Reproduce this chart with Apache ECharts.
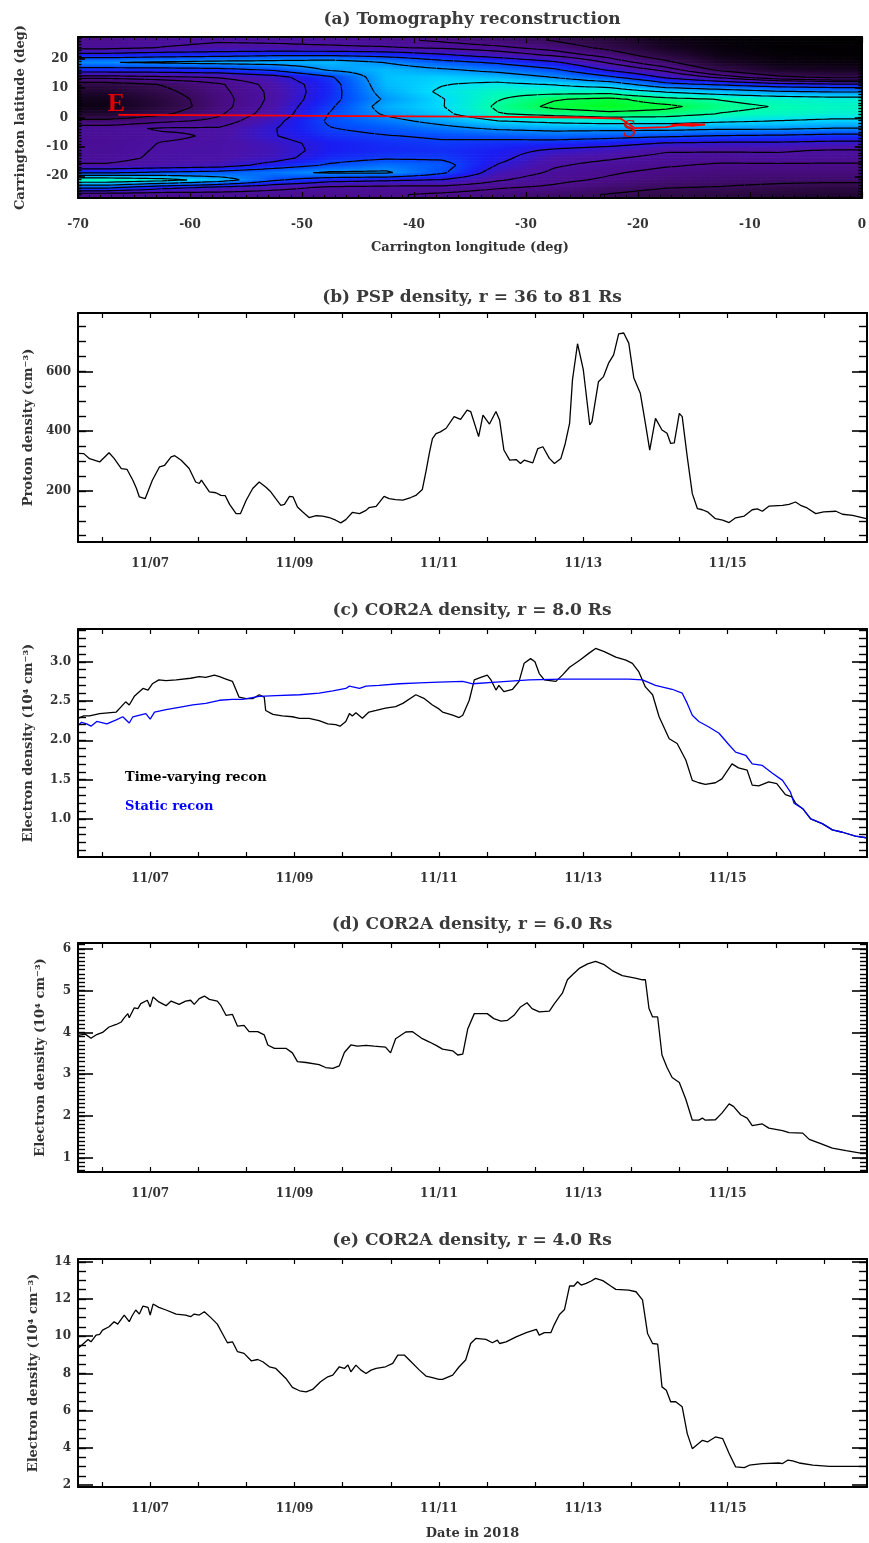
<!DOCTYPE html>
<html>
<head>
<meta charset="utf-8">
<script src="https://cdn.jsdelivr.net/npm/echarts@6/dist/echarts.min.js"></script>
<style>
  html, body { margin: 0; padding: 0; background: #ffffff; }
  #main { width: 869px; height: 1543px; }
</style>
</head>
<body>
<div id="main"></div>
<script>
// ---------- (a) tomography reconstruction: density on a lon/lat grid ----------
const tomoLonCenters = [-67.5, -62.5, -57.5, -52.5, -47.5, -42.5, -37.5, -32.5, -27.5, -22.5, -17.5, -12.5, -7.5, -2.5];
const tomoLatCenters = [26.25, 23.75, 21.25, 18.75, 16.25, 13.75, 11.25, 8.75, 6.25, 3.75, 1.25, -1.25, -3.75, -6.25,
                        -8.75, -11.25, -13.75, -16.25, -18.75, -21.25, -23.75, -26.25];
const tomoDensity = [
  [3.2, 3.5, 3.65, 3.6, 3.5, 3.3, 3.0, 2.6, 2.2, 1.5, 0.6, 0.2, 0.1, 0.0],
  [3.5, 3.75, 3.9, 3.9, 3.85, 3.8, 3.6, 3.3, 2.8, 2.0, 0.9, 0.3, 0.1, 0.1],
  [5.0, 5.2, 5.3, 5.5, 5.5, 5.3, 4.8, 4.2, 3.6, 2.8, 1.6, 0.5, 0.2, 0.1],
  [6.8, 7.0, 7.2, 7.3, 7.5, 6.8, 6.0, 5.5, 4.8, 3.6, 2.5, 1.0, 0.4, 0.3],
  [5.2, 5.2, 5.3, 5.8, 7.0, 7.5, 7.0, 6.5, 5.8, 4.5, 3.5, 2.0, 1.0, 0.8],
  [3.4, 3.6, 3.8, 4.3, 5.5, 7.6, 7.8, 7.5, 6.8, 5.8, 4.5, 3.5, 2.5, 2.0],
  [1.8, 2.3, 3.0, 4.0, 5.2, 7.5, 8.0, 8.3, 8.0, 7.5, 6.0, 5.5, 5.0, 4.8],
  [1.2, 2.0, 2.9, 3.9, 5.2, 7.3, 8.2, 8.8, 8.8, 8.8, 8.0, 7.5, 7.0, 6.8],
  [0.7, 1.7, 2.8, 3.9, 5.3, 7.0, 8.0, 9.0, 9.6, 9.8, 9.3, 9.0, 8.7, 8.5],
  [0.5, 1.6, 2.8, 4.0, 5.5, 7.3, 8.0, 9.2, 9.8, 10.0, 9.8, 9.3, 9.0, 8.8],
  [1.2, 2.1, 3.0, 4.1, 5.7, 7.0, 7.8, 9.0, 9.3, 9.5, 9.4, 9.0, 8.8, 8.6],
  [2.6, 3.0, 3.3, 4.4, 5.8, 6.5, 7.2, 8.0, 8.3, 8.5, 8.5, 8.2, 8.0, 7.8],
  [3.5, 3.8, 3.8, 4.6, 5.6, 6.0, 6.5, 7.0, 7.2, 7.2, 7.2, 7.0, 7.0, 6.8],
  [3.4, 3.6, 3.8, 4.6, 5.3, 5.6, 5.8, 6.0, 6.2, 6.0, 5.8, 5.6, 5.5, 5.3],
  [3.4, 3.75, 3.85, 4.3, 5.0, 5.3, 5.5, 5.3, 5.2, 5.0, 4.6, 4.5, 4.5, 4.4],
  [3.45, 3.8, 3.9, 4.2, 5.0, 5.2, 5.3, 5.0, 4.5, 4.2, 3.8, 3.8, 3.8, 3.65],
  [3.5, 3.85, 3.9, 4.3, 5.2, 5.5, 5.5, 4.9, 4.0, 3.8, 3.5, 3.4, 3.5, 3.4],
  [3.8, 4.0, 4.2, 5.0, 5.8, 6.4, 6.0, 4.6, 3.8, 3.5, 3.2, 3.0, 3.0, 3.0],
  [5.5, 5.8, 6.0, 6.5, 7.0, 7.0, 5.8, 4.2, 3.6, 3.2, 2.9, 2.8, 2.8, 2.8],
  [9.0, 8.5, 7.5, 5.8, 5.0, 4.8, 4.6, 3.8, 3.3, 3.0, 2.7, 2.6, 2.5, 2.5],
  [6.0, 5.0, 4.5, 4.0, 3.6, 3.5, 3.5, 3.2, 3.0, 2.6, 2.3, 2.2, 2.0, 1.8],
  [3.2, 3.2, 3.3, 3.3, 3.2, 3.2, 3.0, 2.8, 2.5, 2.2, 1.9, 1.8, 1.5, 1.3]
];
const tomoColors = ['#000000', '#1a0428', '#320a4c', '#4a0c88', '#4a12aa', '#1a1cf2',
                    '#0058ff', '#0098ff', '#00dcff', '#00ffb0', '#00ff20'];
const contourLevels = [2.25, 3.12, 3.72, 4.65, 5.65, 6.85, 8.05, 9.05, 9.65];

// spacecraft track (E to S)
const trackPath = [[-66.4, 0.9], [-55, 0.7], [-45, 0.5], [-35, 0.3], [-25, 0.0], [-21.5, -0.4], [-20.3, -3.6],
                   [-17.5, -3.3], [-16.3, -2.6], [-15, -2.8], [-14, -2.4], [-15.5, -2.2], [-17, -2.6]];
const trackMarks = [{ name: 'E', value: [-66.56, 4.66], bold: true, color: '#dd0000' },
                    { name: 'S', value: [-20.74, -4.2], bold: false, color: '#cc1111' }];

// ---------- (b)-(e) time series, x = day of November 2018 ----------
const pspDensity = [[6.00,326],[6.08,325],[6.16,308],[6.30,297],[6.43,328],[6.50,309],[6.60,275],[6.68,272],[6.76,236],[6.81,208],[6.85,180],[6.93,174],[7.03,236],[7.13,281],[7.20,286],[7.29,314],[7.34,318],[7.43,303],[7.54,275],[7.63,230],[7.68,225],[7.71,236],[7.82,197],[7.91,194],[7.98,185],[8.04,184],[8.10,155],[8.19,124],[8.25,124],[8.33,169],[8.42,208],[8.51,230],[8.60,213],[8.67,197],[8.74,174],[8.81,152],[8.86,155],[8.93,182],[8.98,180],[9.04,146],[9.11,130],[9.20,111],[9.30,117],[9.39,116],[9.48,111],[9.57,102],[9.64,93],[9.71,104],[9.80,128],[9.90,124],[9.99,135],[10.03,144],[10.13,148],[10.24,182],[10.31,174],[10.40,171],[10.50,169],[10.61,178],[10.68,185],[10.77,205],[10.82,265],[10.87,330],[10.91,375],[10.96,392],[11.02,398],[11.10,410],[11.21,449],[11.30,440],[11.39,471],[11.44,466],[11.55,382],[11.61,454],[11.70,424],[11.79,466],[11.84,438],[11.90,337],[11.98,303],[12.07,305],[12.13,292],[12.18,303],[12.30,294],[12.37,342],[12.44,348],[12.53,309],[12.60,292],[12.69,309],[12.75,359],[12.81,426],[12.85,572],[12.92,693],[13.00,606],[13.09,421],[13.12,432],[13.21,566],[13.28,583],[13.35,628],[13.42,656],[13.49,726],[13.56,729],[13.63,695],[13.70,578],[13.79,527],[13.86,426],[13.92,337],[14.00,443],[14.09,404],[14.16,393],[14.21,359],[14.26,361],[14.33,460],[14.37,449],[14.44,314],[14.51,191],[14.58,141],[14.65,137],[14.72,130],[14.83,107],[14.93,102],[15.02,94],[15.11,110],[15.23,116],[15.34,137],[15.41,140],[15.48,132],[15.57,149],[15.76,152],[15.85,155],[15.94,163],[16.01,152],[16.10,143],[16.22,124],[16.33,130],[16.50,132],[16.59,122],[16.73,118],[16.92,107]];

const cor8TimeVarying = [[6.00,2.28],[6.08,2.31],[6.16,2.31],[6.30,2.34],[6.53,2.36],[6.58,2.41],[6.66,2.49],[6.71,2.45],[6.78,2.56],[6.90,2.66],[6.97,2.64],[7.03,2.72],[7.12,2.77],[7.22,2.76],[7.36,2.77],[7.56,2.79],[7.68,2.81],[7.77,2.80],[7.89,2.83],[7.96,2.81],[8.05,2.78],[8.14,2.75],[8.19,2.64],[8.23,2.55],[8.33,2.53],[8.42,2.53],[8.51,2.58],[8.58,2.55],[8.60,2.38],[8.70,2.33],[8.83,2.31],[8.97,2.30],[9.07,2.28],[9.20,2.28],[9.34,2.25],[9.46,2.21],[9.57,2.20],[9.63,2.18],[9.71,2.24],[9.76,2.34],[9.80,2.31],[9.85,2.35],[9.94,2.28],[10.03,2.36],[10.13,2.38],[10.26,2.41],[10.40,2.43],[10.50,2.47],[10.68,2.58],[10.80,2.53],[10.91,2.45],[11.00,2.40],[11.05,2.36],[11.19,2.32],[11.28,2.29],[11.33,2.32],[11.42,2.51],[11.49,2.77],[11.58,2.80],[11.67,2.83],[11.72,2.77],[11.79,2.64],[11.83,2.70],[11.90,2.62],[12.02,2.65],[12.11,2.75],[12.18,2.98],[12.27,3.04],[12.33,3.00],[12.39,2.85],[12.46,2.77],[12.62,2.75],[12.71,2.83],[12.81,2.93],[12.95,3.02],[13.08,3.11],[13.17,3.17],[13.29,3.13],[13.45,3.06],[13.59,3.02],[13.68,2.98],[13.77,2.87],[13.86,2.68],[13.96,2.58],[14.05,2.30],[14.19,2.02],[14.30,1.96],[14.42,1.75],[14.51,1.49],[14.60,1.46],[14.69,1.44],[14.83,1.46],[14.92,1.51],[15.06,1.70],[15.15,1.65],[15.27,1.62],[15.34,1.43],[15.43,1.42],[15.57,1.47],[15.68,1.45],[15.80,1.31],[15.89,1.28],[15.94,1.20],[16.04,1.13],[16.15,1.00],[16.31,0.94],[16.45,0.86],[16.59,0.83],[16.77,0.78],[16.92,0.76]];

const cor8Static = [[6.00,2.19],[6.05,2.23],[6.12,2.21],[6.18,2.18],[6.26,2.24],[6.40,2.21],[6.53,2.26],[6.62,2.30],[6.71,2.22],[6.76,2.30],[6.94,2.34],[7.00,2.27],[7.06,2.36],[7.22,2.39],[7.40,2.42],[7.59,2.45],[7.77,2.47],[7.96,2.51],[8.14,2.52],[8.28,2.52],[8.51,2.56],[8.74,2.57],[9.07,2.58],[9.34,2.60],[9.53,2.63],[9.71,2.66],[9.76,2.69],[9.90,2.66],[9.99,2.69],[10.17,2.70],[10.45,2.72],[10.73,2.73],[11.00,2.74],[11.33,2.75],[11.47,2.72],[11.79,2.74],[12.25,2.77],[12.71,2.78],[13.17,2.78],[13.63,2.78],[13.82,2.77],[14.00,2.70],[14.23,2.65],[14.37,2.60],[14.44,2.47],[14.51,2.32],[14.60,2.24],[14.74,2.17],[14.88,2.09],[15.02,1.94],[15.11,1.85],[15.25,1.81],[15.34,1.70],[15.48,1.68],[15.62,1.58],[15.76,1.49],[15.87,1.34],[15.92,1.20],[16.04,1.13],[16.15,1.00],[16.31,0.94],[16.45,0.86],[16.59,0.83],[16.77,0.78],[16.92,0.76]];

const cor6Density = [[6.00,3.93],[6.10,3.96],[6.18,3.86],[6.25,3.94],[6.34,4.00],[6.43,4.13],[6.53,4.19],[6.60,4.25],[6.64,4.35],[6.69,4.45],[6.71,4.35],[6.78,4.59],[6.83,4.57],[6.87,4.69],[6.96,4.77],[7.00,4.61],[7.04,4.85],[7.12,4.73],[7.22,4.64],[7.29,4.75],[7.40,4.67],[7.49,4.75],[7.56,4.77],[7.61,4.67],[7.68,4.81],[7.75,4.87],[7.82,4.79],[7.93,4.75],[7.98,4.64],[8.05,4.41],[8.14,4.43],[8.21,4.15],[8.30,4.17],[8.37,4.02],[8.49,4.02],[8.58,3.94],[8.63,3.70],[8.72,3.62],[8.88,3.62],[8.97,3.51],[9.04,3.30],[9.16,3.28],[9.34,3.23],[9.43,3.16],[9.53,3.14],[9.62,3.20],[9.69,3.52],[9.78,3.70],[9.87,3.67],[9.99,3.69],[10.10,3.67],[10.26,3.65],[10.33,3.51],[10.40,3.85],[10.54,4.01],[10.63,4.02],[10.77,3.85],[10.87,3.77],[10.96,3.69],[11.05,3.60],[11.19,3.56],[11.26,3.46],[11.33,3.48],[11.40,4.09],[11.49,4.45],[11.58,4.45],[11.67,4.45],[11.76,4.33],[11.86,4.27],[11.95,4.29],[12.04,4.41],[12.13,4.61],[12.22,4.71],[12.29,4.57],[12.39,4.49],[12.53,4.51],[12.60,4.69],[12.71,4.94],[12.78,5.26],[12.85,5.38],[12.95,5.54],[13.06,5.64],[13.17,5.70],[13.29,5.62],[13.40,5.48],[13.54,5.36],[13.63,5.33],[13.72,5.30],[13.82,5.26],[13.86,5.26],[13.91,4.57],[13.96,4.37],[14.03,4.37],[14.09,3.46],[14.16,3.16],[14.23,2.92],[14.33,2.80],[14.42,2.40],[14.51,1.90],[14.60,1.90],[14.65,1.95],[14.69,1.90],[14.83,1.91],[14.92,2.07],[15.02,2.29],[15.08,2.23],[15.18,2.03],[15.27,1.95],[15.34,1.77],[15.48,1.81],[15.57,1.71],[15.76,1.65],[15.85,1.60],[16.04,1.59],[16.13,1.44],[16.27,1.35],[16.45,1.23],[16.64,1.17],[16.82,1.12],[16.92,1.12]];

const cor4Density = [[6.00,9.35],[6.05,9.52],[6.14,9.83],[6.18,9.70],[6.25,10.06],[6.30,10.10],[6.34,10.33],[6.43,10.51],[6.50,10.78],[6.55,10.65],[6.64,11.14],[6.66,11.23],[6.71,10.78],[6.75,11.10],[6.80,11.41],[6.85,11.19],[6.90,11.62],[6.97,11.55],[7.00,11.14],[7.04,11.73],[7.12,11.55],[7.22,11.41],[7.36,11.19],[7.49,11.14],[7.56,11.05],[7.61,11.19],[7.68,11.14],[7.75,11.32],[7.84,11.00],[7.93,10.65],[8.00,10.15],[8.07,9.65],[8.14,9.70],[8.21,9.17],[8.30,9.08],[8.40,8.68],[8.49,8.75],[8.56,8.63],[8.65,8.36],[8.74,8.27],[8.88,7.73],[8.97,7.25],[9.07,7.07],[9.16,7.01],[9.25,7.14],[9.36,7.55],[9.46,7.82],[9.53,7.91],[9.62,8.36],[9.69,8.27],[9.74,8.45],[9.78,8.09],[9.85,8.45],[9.92,8.18],[9.99,8.00],[10.06,8.18],[10.13,8.27],[10.26,8.36],[10.36,8.54],[10.43,8.99],[10.52,8.99],[10.59,8.72],[10.73,8.18],[10.82,7.86],[10.91,7.78],[11.00,7.68],[11.05,7.68],[11.19,7.91],[11.28,8.36],[11.37,8.72],[11.44,9.61],[11.51,9.88],[11.65,9.83],[11.74,9.65],[11.81,9.79],[11.84,9.61],[11.93,9.70],[12.07,9.97],[12.21,10.19],[12.35,10.37],[12.39,10.06],[12.46,10.19],[12.55,10.19],[12.60,10.64],[12.67,11.17],[12.74,11.44],[12.81,12.70],[12.87,12.70],[12.92,12.93],[12.97,12.75],[13.04,12.84],[13.11,12.97],[13.17,13.11],[13.27,12.99],[13.38,12.70],[13.45,12.52],[13.63,12.48],[13.73,12.39],[13.82,11.95],[13.89,10.15],[13.96,9.61],[14.03,9.58],[14.09,7.28],[14.15,7.10],[14.21,6.48],[14.28,6.48],[14.37,6.21],[14.44,4.77],[14.51,3.96],[14.65,4.41],[14.72,4.32],[14.83,4.59],[14.93,4.50],[15.02,3.70],[15.11,2.98],[15.23,2.94],[15.30,3.07],[15.48,3.16],[15.71,3.19],[15.76,3.16],[15.83,3.34],[15.90,3.30],[15.99,3.19],[16.18,3.07],[16.41,3.01],[16.68,3.01],[16.92,3.01]];

// axis ticks and labels
const dateLabelDays = [7, 9, 11, 13, 15];
const lonLabels = [-70, -60, -50, -40, -30, -20, -10, 0];
const latLabels = [-20, -10, 0, 10, 20];
const pspLabels = [200, 400, 600];
const cor8Labels = [1.0, 1.5, 2.0, 2.5, 3.0];
const cor6Labels = [1, 2, 3, 4, 5, 6];
const cor4Labels = [2, 4, 6, 8, 10, 12, 14];

// ---------- styling helpers ----------
const FONT = '"DejaVu Serif", "Liberation Serif", serif';
const TXT = '#333333';

function steps(start, stop, step) {
  const out = [];
  const n = Math.round((stop - start) / step);
  for (let i = 0; i <= n; i++) out.push(+(start + i * step).toFixed(4));
  return out;
}
const dayTicks = steps(19 / 3, 16.93, 2 / 3);

const grids = [], xAxes = [], yAxes = [], series = [];

function addPanel(p) {
  const g = grids.length;
  grids.push({ left: 78, top: p.top, width: 789, height: p.height, containLabel: false });
  const xi = xAxes.length, yi = yAxes.length;
  const lineStyle = { color: '#000', width: 2 };
  const label = { color: TXT, fontFamily: FONT, fontWeight: 'bold', fontSize: 12 };
  const Z = 10;
  xAxes.push({
    gridIndex: g, type: 'value', min: p.xMin, max: p.xMax, position: 'bottom', z: Z,
    name: p.xName || '', nameLocation: 'middle', nameGap: p.xNameGap || 40,
    nameTextStyle: { color: TXT, fontFamily: FONT, fontWeight: 'bold', fontSize: 13 },
    axisLine: { show: true, onZero: false, lineStyle },
    axisTick: { show: true, inside: true, length: p.xTickLen, customValues: p.xTicks, lineStyle: { color: '#000', width: 1.2 } },
    axisLabel: Object.assign({ show: true, customValues: p.xLabels, formatter: p.xFormat, margin: p.xLabelMargin, hideOverlap: false }, label),
    splitLine: { show: false }
  });
  xAxes.push({
    gridIndex: g, type: 'value', min: p.xMin, max: p.xMax, position: 'top', z: Z,
    axisLine: { show: true, onZero: false, lineStyle },
    axisTick: { show: true, inside: true, length: p.xTickLen, customValues: p.xTicks, lineStyle: { color: '#000', width: 1.2 } },
    axisLabel: { show: false }, splitLine: { show: false }
  });
  if (p.xMinorTicks) {
    for (const pos of ['bottom', 'top']) {
      xAxes.push({
        gridIndex: g, type: 'value', min: p.xMin, max: p.xMax, position: pos, z: Z,
        axisLine: { show: false, onZero: false },
        axisTick: { show: true, inside: true, length: p.xMinorLen, customValues: p.xMinorTicks, lineStyle: { color: '#000', width: 1 } },
        axisLabel: { show: false }, splitLine: { show: false }
      });
    }
  }
  yAxes.push({
    gridIndex: g, type: 'value', min: p.yMin, max: p.yMax, position: 'left', z: Z,
    name: p.yName, nameLocation: 'middle', nameGap: p.yNameGap,
    nameTextStyle: { color: TXT, fontFamily: FONT, fontWeight: 'bold', fontSize: 13 },
    axisLine: { show: true, onZero: false, lineStyle },
    axisTick: { show: true, inside: true, length: p.yMajorLen, customValues: p.yMajor, lineStyle: { color: '#000', width: 1.6 } },
    axisLabel: Object.assign({ show: true, customValues: p.yMajor, formatter: p.yFormat, margin: p.yLabelMargin, hideOverlap: false }, label),
    splitLine: { show: false }
  });
  yAxes.push({
    gridIndex: g, type: 'value', min: p.yMin, max: p.yMax, position: 'right', z: Z,
    axisLine: { show: true, onZero: false, lineStyle },
    axisTick: { show: true, inside: true, length: p.yMajorLen, customValues: p.yMajor, lineStyle: { color: '#000', width: 1.6 } },
    axisLabel: { show: false }, splitLine: { show: false }
  });
  for (const pos of ['left', 'right']) {
    yAxes.push({
      gridIndex: g, type: 'value', min: p.yMin, max: p.yMax, position: pos, z: Z,
      axisLine: { show: false, onZero: false },
      axisTick: { show: true, inside: true, length: p.yMinorLen, customValues: p.yMinor, lineStyle: { color: '#000', width: 1.4 } },
      axisLabel: { show: false }, splitLine: { show: false }
    });
  }
  return { xi, yi };
}

const fmtDate = v => '11/' + String(Math.round(v)).padStart(2, '0');
const timeAxis = { xMin: 6.0, xMax: 16.93, xTicks: dayTicks, xLabels: dateLabelDays, xFormat: fmtDate, xTickLen: 5, xLabelMargin: 16 };

// (a)
const pa = addPanel({
  top: 37, height: 161, xMin: -70, xMax: 0,
  xTicks: steps(-70, 0, 10), xLabels: lonLabels, xFormat: v => String(v), xTickLen: 6, xLabelMargin: 21,
  xMinorTicks: steps(-70, 0, 1), xMinorLen: 3,
  xName: 'Carrington longitude (deg)', xNameGap: 43,
  yMin: -27.4, yMax: 27.4, yMajor: latLabels, yMinor: steps(-27, 27, 1), yMajorLen: 7, yMinorLen: 3.5,
  yFormat: v => String(v), yLabelMargin: 10, yName: 'Carrington latitude (deg)', yNameGap: 51
});
// (b)
const pb = addPanel(Object.assign({
  top: 313, height: 229, yMin: 29, yMax: 796, yMajor: pspLabels, yMinor: steps(50, 750, 50),
  yMajorLen: 15, yMinorLen: 8, yFormat: v => String(v), yLabelMargin: 7, yName: 'Proton density (cm\u207B\u00B3)', yNameGap: 43
}, timeAxis));
// (c)
const pc = addPanel(Object.assign({
  top: 629, height: 228, yMin: 0.515, yMax: 3.417, yMajor: cor8Labels, yMinor: steps(0.6, 3.4, 0.1),
  yMajorLen: 15, yMinorLen: 8, yFormat: v => v.toFixed(1), yLabelMargin: 7, yName: 'Electron density (10\u2074 cm\u207B\u00B3)', yNameGap: 43
}, timeAxis));
// (d)
const pd = addPanel(Object.assign({
  top: 943, height: 229, yMin: 0.66, yMax: 6.14, yMajor: cor6Labels, yMinor: steps(0.7, 6.1, 0.1),
  yMajorLen: 15, yMinorLen: 7, yFormat: v => String(v), yLabelMargin: 7, yName: 'Electron density (10\u2074 cm\u207B\u00B3)', yNameGap: 31
}, timeAxis));
// (e)
const pe = addPanel(Object.assign({
  top: 1259, height: 228, yMin: 1.9, yMax: 14.15, yMajor: cor4Labels, yMinor: steps(2.5, 14, 0.5),
  yMajorLen: 15, yMinorLen: 8, yFormat: v => String(v), yLabelMargin: 7, yName: 'Electron density (10\u2074 cm\u207B\u00B3)', yNameGap: 38,
  xName: 'Date in 2018', xNameGap: 40
}, timeAxis));

// ---------- colour shading of the tomography grid ----------
const stopRGB = tomoColors.map(h => [parseInt(h.slice(1, 3), 16), parseInt(h.slice(3, 5), 16), parseInt(h.slice(5, 7), 16)]);
function colourOf(v) {
  const t = Math.max(0, Math.min(stopRGB.length - 1, v));
  const i = Math.min(stopRGB.length - 2, Math.floor(t)), f = t - i;
  const a = stopRGB[i], b = stopRGB[i + 1];
  return 'rgb(' + a.map((c, k) => Math.round(c + (b[k] - c) * f)).join(',') + ')';
}
const nCol = tomoLonCenters.length, nRow = tomoLatCenters.length;
// bilinear shading between grid nodes, as an image display would do
function densityAt(lon, lat) {
  let fx = (lon - tomoLonCenters[0]) / 5, fy = (tomoLatCenters[0] - lat) / 2.5;
  fx = Math.max(0, Math.min(nCol - 1, fx)); fy = Math.max(0, Math.min(nRow - 1, fy));
  const i = Math.min(nCol - 2, Math.floor(fx)), j = Math.min(nRow - 2, Math.floor(fy));
  const tx = fx - i, ty = fy - j;
  const v00 = tomoDensity[j][i], v01 = tomoDensity[j][i + 1], v10 = tomoDensity[j + 1][i], v11 = tomoDensity[j + 1][i + 1];
  return (v00 * (1 - tx) + v01 * tx) * (1 - ty) + (v10 * (1 - tx) + v11 * tx) * ty;
}
const cells = [];
tomoDensity.forEach((row, r) => row.forEach((v, c) => cells.push([c, r, v])));
const NX = 8, NY = 5;
series.push({
  type: 'custom', xAxisIndex: pa.xi, yAxisIndex: pa.yi, data: cells, silent: true, animation: false, clip: true, z: 1,
  renderItem(params, api) {
    const c = api.value(0), r = api.value(1);
    const lonL = tomoLonCenters[c] - 2.5, latT = tomoLatCenters[r] + 1.25;
    const children = [];
    for (let j = 0; j < NY; j++) {
      const la0 = latT - j * 2.5 / NY, la1 = la0 - 2.5 / NY, lam = (la0 + la1) / 2;
      for (let i = 0; i < NX; i++) {
        const lo0 = lonL + i * 5 / NX, lo1 = lo0 + 5 / NX;
        const p0 = api.coord([lo0, la0]), p1 = api.coord([lo1, la1]);
        children.push({
          type: 'rect',
          shape: { x: p0[0], y: p0[1], width: p1[0] - p0[0] + 0.7, height: p1[1] - p0[1] + 0.7 },
          style: { fill: { type: 'linear', x: 0, y: 0, x2: 1, y2: 0, colorStops: [
            { offset: 0, color: colourOf(densityAt(lo0, lam)) }, { offset: 1, color: colourOf(densityAt(lo1, lam)) }] } }
        });
      }
    }
    return { type: 'group', children };
  }
});

// contour lines of the same field (marching squares on a fine lon/lat lattice)
function contourPoints(level) {
  const lons = steps(-70, 0, 0.5), lats = steps(-27.5, 27.5, 0.25).reverse();
  const F = lats.map(la => lons.map(lo => densityAt(lo, la)));
  const pts = [];
  for (let j = 0; j < lats.length - 1; j++) {
    for (let i = 0; i < lons.length - 1; i++) {
      const x0 = lons[i], x1 = lons[i + 1], y0 = lats[j], y1 = lats[j + 1];
      const a = F[j][i], b = F[j][i + 1], c = F[j + 1][i + 1], d = F[j + 1][i];
      const edges = [[a, b, x0, y0, x1, y0], [b, c, x1, y0, x1, y1], [c, d, x1, y1, x0, y1], [d, a, x0, y1, x0, y0]];
      const cut = [];
      for (const [va, vb, xa, ya, xb, yb] of edges) {
        if ((va < level) !== (vb < level)) {
          const t = (level - va) / (vb - va);
          cut.push([xa + (xb - xa) * t, ya + (yb - ya) * t]);
        }
      }
      if (cut.length === 2) pts.push(cut[0], cut[1], ['-', '-']);
      else if (cut.length === 4) {
        const m = (a + b + c + d) / 4;
        if ((m < level) === (a < level)) pts.push(cut[0], cut[1], ['-', '-'], cut[2], cut[3], ['-', '-']);
        else pts.push(cut[3], cut[0], ['-', '-'], cut[1], cut[2], ['-', '-']);
      }
    }
  }
  return pts;
}

const lineBase = { type: 'line', showSymbol: false, symbol: 'none', silent: true, animation: false, clip: true, z: 3 };

contourLevels.forEach(level => series.push(Object.assign({}, lineBase, {
  xAxisIndex: pa.xi, yAxisIndex: pa.yi, data: contourPoints(level), connectNulls: false,
  lineStyle: { color: '#000', width: 1.2 }
})));
series.push(Object.assign({}, lineBase, {
  xAxisIndex: pa.xi, yAxisIndex: pa.yi, data: trackPath, z: 4, lineStyle: { color: '#ff0000', width: 1.8 }
}));
series.push({
  type: 'scatter', xAxisIndex: pa.xi, yAxisIndex: pa.yi, symbolSize: 1, silent: true, animation: false, z: 5,
  itemStyle: { color: 'rgba(0,0,0,0)' },
  data: trackMarks.map(m => ({ name: m.name, value: m.value, label: { fontWeight: m.bold ? 'bold' : 'normal', color: m.color } })),
  label: { show: true, position: 'inside', formatter: d => d.name, opacity: 1,
           fontFamily: '"Liberation Serif", serif', fontSize: 26 }
});

series.push(Object.assign({}, lineBase, { xAxisIndex: pb.xi, yAxisIndex: pb.yi, data: pspDensity, lineStyle: { color: '#000', width: 1.3 } }));
series.push(Object.assign({}, lineBase, { xAxisIndex: pc.xi, yAxisIndex: pc.yi, data: cor8TimeVarying, lineStyle: { color: '#000', width: 1.3 } }));
series.push(Object.assign({}, lineBase, { xAxisIndex: pc.xi, yAxisIndex: pc.yi, data: cor8Static, lineStyle: { color: '#0000ff', width: 1.3 } }));
series.push(Object.assign({}, lineBase, { xAxisIndex: pd.xi, yAxisIndex: pd.yi, data: cor6Density, lineStyle: { color: '#000', width: 1.3 } }));
series.push(Object.assign({}, lineBase, { xAxisIndex: pe.xi, yAxisIndex: pe.yi, data: cor4Density, lineStyle: { color: '#000', width: 1.3 } }));

const titleStyle = { color: '#3a3a3a', fontFamily: FONT, fontWeight: 'bold', fontSize: 17 };
const titles = [
  ['(a) Tomography reconstruction', 11],
  ['(b) PSP density, r = 36 to 81 Rs', 289],
  ['(c) COR2A density, r = 8.0 Rs', 602],
  ['(d) COR2A density, r = 6.0 Rs', 916],
  ['(e) COR2A density, r = 4.0 Rs', 1232]
].map(([text, top]) => ({ text, left: 472, top, textAlign: 'center', textStyle: titleStyle, padding: 0 }));

const main = echarts.init(document.getElementById('main'), null, { renderer: 'canvas' });
main.setOption({
  backgroundColor: '#ffffff',
  animation: false,
  title: titles,
  grid: grids,
  xAxis: xAxes,
  yAxis: yAxes,
  series,
  graphic: [
    { type: 'text', left: 125, top: 771, style: { text: 'Time-varying recon', fill: '#000000', font: 'bold 13px ' + FONT } },
    { type: 'text', left: 125, top: 800, style: { text: 'Static recon', fill: '#0000ff', font: 'bold 13px ' + FONT } }
  ]
});
</script>
</body>
</html>
